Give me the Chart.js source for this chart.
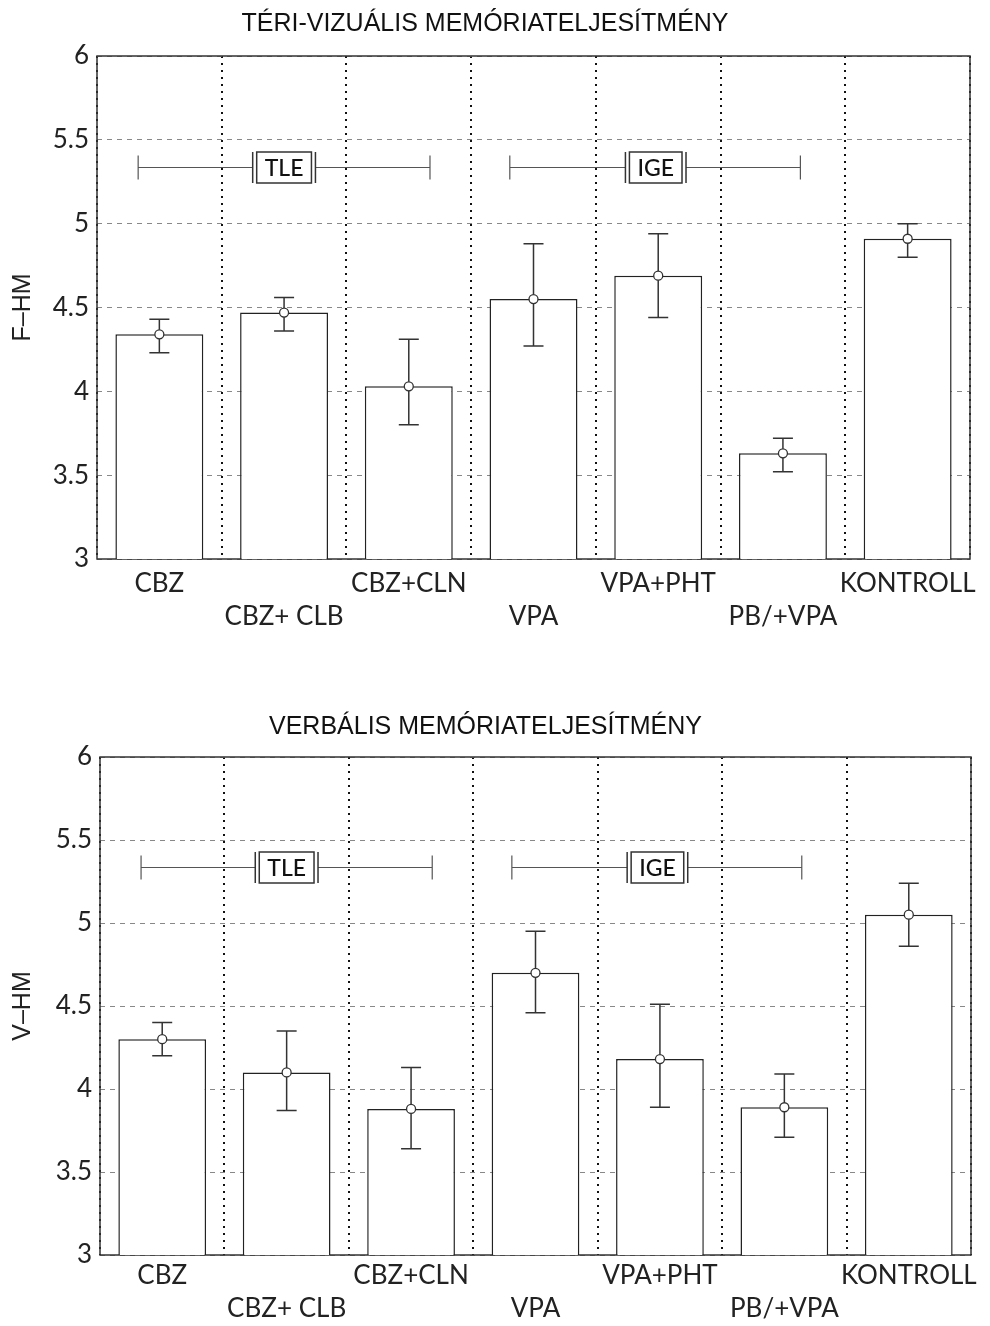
<!DOCTYPE html>
<html>
<head>
<meta charset="utf-8">
<script src="https://cdn.jsdelivr.net/npm/chart.js@4.4.1/dist/chart.umd.min.js"></script>
<style>
  body { margin: 0; background: #fff; width: 990px; height: 1326px; position: relative; overflow: hidden; }
  canvas { position: absolute; left: 0; }
  #chartF { top: 0; }
  #chartV { top: 700px; }
</style>
</head>
<body>
<canvas id="chartF" width="990" height="650"></canvas>
<canvas id="chartV" width="990" height="626"></canvas>
<script>
const categories = ['CBZ', 'CBZ+ CLB', 'CBZ+CLN', 'VPA', 'VPA+PHT', 'PB/+VPA', 'KONTROLL'];

// térbeli-vizuális (F-HM)
const fhmMean = [4.34, 4.47, 4.03, 4.55, 4.69, 3.63, 4.91];
const fhmLow  = [4.23, 4.36, 3.80, 4.27, 4.44, 3.52, 4.80];
const fhmHigh = [4.43, 4.56, 4.31, 4.88, 4.94, 3.72, 5.00];

// verbális (V-HM)
const vhmMean = [4.30, 4.10, 3.88, 4.70, 4.18, 3.89, 5.05];
const vhmLow  = [4.20, 3.87, 3.64, 4.46, 3.89, 3.71, 4.86];
const vhmHigh = [4.40, 4.35, 4.13, 4.95, 4.51, 4.09, 5.24];

// csoport-zárójelek (kategória-index szerint)
const groupLabels = ['TLE', 'IGE'];
const groupFrom   = [-0.17, 2.81];
const groupTo     = [2.17, 5.14];
const groupCenter = [1.0, 3.98];
const groupLevel  = 5.335;

const yMin = 3, yMax = 6, yStep = 0.5;

const tickFont = "Lato, 'Open Sans', sans-serif";
const titleFont = "'Liberation Sans Narrow', 'Liberation Sans', Arial, sans-serif";

const frame = {
    id: 'frame',
    beforeDatasetsDraw(chart) {
        const { ctx, chartArea: a } = chart;
        ctx.save();
        ctx.strokeStyle = '#333';
        ctx.lineWidth = 1.5;
        ctx.strokeRect(a.left, a.top, a.right - a.left, a.bottom - a.top);
        ctx.restore();
    }
};

const errorBars = {
    id: 'errorBars',
    afterDatasetDraw(chart, args, opts) {
        if (args.index !== 0) return;
        const { ctx, scales: { x, y } } = chart;
        ctx.save();
        ctx.strokeStyle = '#333';
        ctx.lineWidth = 1.5;
        opts.low.forEach((lo, i) => {
            const px = x.getPixelForValue(i);
            const y0 = y.getPixelForValue(lo);
            const y1 = y.getPixelForValue(opts.high[i]);
            ctx.beginPath();
            ctx.moveTo(px, y0); ctx.lineTo(px, y1);
            ctx.moveTo(px - 10, y0); ctx.lineTo(px + 10, y0);
            ctx.moveTo(px - 10, y1); ctx.lineTo(px + 10, y1);
            ctx.stroke();
        });
        ctx.restore();
    }
};

const groupBrackets = {
    id: 'groupBrackets',
    afterDatasetsDraw(chart) {
        const { ctx, scales: { x, y } } = chart;
        const yy = Math.round(y.getPixelForValue(groupLevel)) + 0.5;
        ctx.save();
        ctx.font = '500 23px ' + tickFont;
        ctx.textAlign = 'center';
        ctx.textBaseline = 'middle';
        groupLabels.forEach((lab, i) => {
            const x0 = x.getPixelForValue(groupFrom[i]);
            const x1 = x.getPixelForValue(groupTo[i]);
            const xc = x.getPixelForValue(groupCenter[i]);
            const bw = ctx.measureText(lab).width + 16, bh = 31;
            const bl = xc - bw / 2, br = xc + bw / 2;
            ctx.strokeStyle = '#555';
            ctx.lineWidth = 1.2;
            ctx.beginPath();
            ctx.moveTo(x0, yy); ctx.lineTo(bl - 4, yy);
            ctx.moveTo(br + 4, yy); ctx.lineTo(x1, yy);
            ctx.moveTo(x0, yy - 12); ctx.lineTo(x0, yy + 12);
            ctx.moveTo(x1, yy - 12); ctx.lineTo(x1, yy + 12);
            ctx.stroke();
            ctx.fillStyle = '#fff';
            ctx.fillRect(bl, yy - bh / 2, bw, bh);
            ctx.strokeStyle = '#333';
            ctx.lineWidth = 1.5;
            ctx.strokeRect(bl, yy - bh / 2, bw, bh);
            ctx.beginPath();
            ctx.moveTo(bl - 4, yy - bh / 2); ctx.lineTo(bl - 4, yy + bh / 2);
            ctx.moveTo(br + 4, yy - bh / 2); ctx.lineTo(br + 4, yy + bh / 2);
            ctx.stroke();
            ctx.fillStyle = '#111';
            ctx.fillText(lab, xc, yy + 1);
        });
        ctx.restore();
    }
};

function makeChart(id, title, yTitle, mean, low, high, lay) {
    return new Chart(document.getElementById(id), {
        type: 'bar',
        data: {
            labels: categories,
            datasets: [{
                data: mean,
                backgroundColor: '#fff',
                borderColor: '#222',
                borderWidth: 1.5,
                barPercentage: 0.705,
                categoryPercentage: 1,
                order: 2
            }, {
                type: 'line',
                data: mean,
                showLine: false,
                pointStyle: 'circle',
                pointRadius: 4.5,
                pointBorderWidth: 1.3,
                pointBackgroundColor: '#fff',
                pointBorderColor: '#333',
                order: 1
            }]
        },
        options: {
            responsive: false,
            animation: false,
            layout: { padding: { left: 0, right: lay.right, top: 0, bottom: 0 } },
            plugins: {
                legend: { display: false },
                tooltip: { enabled: false },
                title: {
                    display: true,
                    text: title,
                    color: '#111',
                    font: { family: titleFont, size: 25, weight: 'normal', lineHeight: 1.2 },
                    padding: { top: lay.titleTop, bottom: lay.titleBottom }
                },
                errorBars: { low: low, high: high }
            },
            scales: {
                x: {
                    grid: { color: '#111', lineWidth: 2, drawTicks: false, offset: true },
                    border: { display: false, dash: [2, 5] },
                    ticks: {
                        color: '#222',
                        padding: lay.tickPad,
                        autoSkip: false,
                        maxRotation: 0,
                        font: { family: tickFont, size: 26, lineHeight: 1.27 },
                        callback: (v, i) => i % 2 ? ['', categories[i]] : [categories[i], '']
                    },
                    afterFit: s => { s.height = lay.xHeight; }
                },
                y: {
                    min: yMin,
                    max: yMax,
                    grid: { color: '#888', lineWidth: 1, drawTicks: false },
                    border: { display: false, dash: [5, 5] },
                    ticks: {
                        stepSize: yStep,
                        color: '#222',
                        padding: 8,
                        font: { family: tickFont, size: 26 },
                        callback: v => String(v)
                    },
                    title: {
                        display: true,
                        text: yTitle,
                        color: '#222',
                        font: { family: "'Liberation Sans', Arial, sans-serif", size: 25 },
                        padding: { top: 8, bottom: 0 }
                    },
                    afterFit: s => { s.width = lay.left; }
                }
            }
        },
        plugins: [frame, errorBars, groupBrackets]
    });
}

makeChart('chartF', 'TÉRI-VIZUÁLIS MEMÓRIATELJESÍTMÉNY', 'F–HM', fhmMean, fhmLow, fhmHigh,
    { left: 97, right: 20, titleTop: 9, titleBottom: 17, xHeight: 91, tickPad: 8 });
makeChart('chartV', 'VERBÁLIS MEMÓRIATELJESÍTMÉNY', 'V–HM', vhmMean, vhmLow, vhmHigh,
    { left: 100, right: 19, titleTop: 12, titleBottom: 15, xHeight: 71, tickPad: 4 });
</script>
</body>
</html>
